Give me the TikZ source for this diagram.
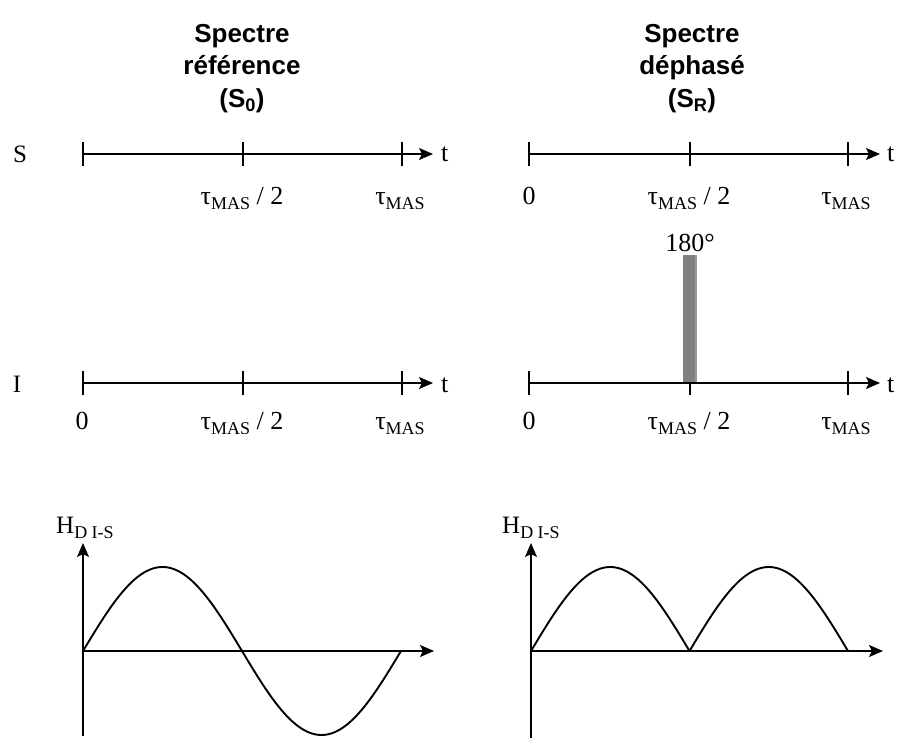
\documentclass[tikz,border=0pt]{standalone}
\usepackage{fontspec}
\setmainfont{Liberation Serif}
\newfontfamily\titlefont{Liberation Sans}
\usetikzlibrary{arrows.meta}
\newcommand\lowsub[1]{\raisebox{-5pt}{\fontsize{18}{18}\selectfont #1}}
\newcommand\tauMAS{τ\lowsub{MAS}}
\begin{document}
\begin{tikzpicture}[x=1pt,y=-1pt,
  axisline/.style={line width=1.5pt,-{Stealth[length=14pt,width=12pt,inset=3pt]}},
  tickline/.style={line width=1.2pt},
  curve/.style={line width=1.9pt},
  ticklbl/.style={font=\fontsize{26}{30}\selectfont, anchor=base, inner sep=0pt},
  rowlbl/.style={font=\fontsize{25}{30}\selectfont, anchor=base, inner sep=0pt},
  titlelbl/.style={font=\titlefont\bfseries\fontsize{26}{32.5}\selectfont, align=center, anchor=north, inner sep=0pt},
]
\useasboundingbox (0,0) rectangle (898,738);

% titles
\node[titlelbl] (title1) at (242,24) {Spectre\\référence\\(S\textsubscript{0})};
\node[titlelbl] (title2) at (692,24) {Spectre\\déphasé\\(S\textsubscript{R})};

% row labels
\node[rowlbl] (labS) at (20,163) {S};
\node[rowlbl] (labI) at (17,392) {I};

% ---- S row, left
\coordinate (sl0) at (83,154);
\coordinate (sl1) at (243,154);
\coordinate (sl2) at (402,154);
\coordinate (slend) at (433,154);
\foreach \c in {sl0,sl1,sl2} \draw[tickline] ([yshift=-12pt]\c) -- ([yshift=12pt]\c);
\draw[axisline] (sl0) -- (slend);
\node[ticklbl, anchor=base west] (tsl) at (441,162) {t};
\node[ticklbl] (sl1lbl) at (242,205) {\tauMAS\ / 2};
\node[ticklbl] (sl2lbl) at (400,205) {\tauMAS};

% ---- S row, right
\coordinate (sr0) at (529,154);
\coordinate (sr1) at (690,154);
\coordinate (sr2) at (848,154);
\coordinate (srend) at (880,154);
\foreach \c in {sr0,sr1,sr2} \draw[tickline] ([yshift=-12pt]\c) -- ([yshift=12pt]\c);
\draw[axisline] (sr0) -- (srend);
\node[ticklbl, anchor=base west] (tsr) at (887,162) {t};
\node[ticklbl] (sr0lbl) at (529,205) {0};
\node[ticklbl] (sr1lbl) at (689,205) {\tauMAS\ / 2};
\node[ticklbl] (sr2lbl) at (846,205) {\tauMAS};

% ---- I row, left
\coordinate (il0) at (83,383);
\coordinate (il1) at (243,383);
\coordinate (il2) at (402,383);
\coordinate (ilend) at (433,383);
\foreach \c in {il0,il1,il2} \draw[tickline] ([yshift=-12pt]\c) -- ([yshift=12pt]\c);
\draw[axisline] (il0) -- (ilend);
\node[ticklbl, anchor=base west] (til) at (441,392) {t};
\node[ticklbl] (il0lbl) at (82,429) {0};
\node[ticklbl] (il1lbl) at (242,429) {\tauMAS\ / 2};
\node[ticklbl] (il2lbl) at (400,429) {\tauMAS};

% ---- I row, right
\coordinate (ir0) at (529,383);
\coordinate (ir1) at (690,383);
\coordinate (ir2) at (848,383);
\coordinate (irend) at (880,383);
\foreach \c in {ir0,ir1,ir2} \draw[tickline] ([yshift=-12pt]\c) -- ([yshift=12pt]\c);
\fill[gray] (683,255) rectangle (695,383);
\fill[gray!80] (695,255) rectangle (697,383);
\draw[axisline] (ir0) -- (irend);
\node[ticklbl, anchor=base west] (tir) at (887,392) {t};
\node[ticklbl] (ir0lbl) at (529,429) {0};
\node[ticklbl] (ir1lbl) at (689,429) {\tauMAS\ / 2};
\node[ticklbl] (ir2lbl) at (846,429) {\tauMAS};
\node[ticklbl] (phase) at (690,252) {180°};

% ---- bottom graphs
\coordinate (gl0) at (83,651);
\coordinate (glbot) at (83,736);
\coordinate (gltop) at (83,543);
\coordinate (glx) at (434,651);
\draw[axisline] (glbot) -- (gltop);
\draw[axisline] (gl0) -- (glx);
\draw[curve] plot[domain=0:360, samples=121, smooth] ({83+(\x/360)*318},{651-84*sin(\x)});
\node[rowlbl, anchor=base west] (hl) at (56,533) {H\lowsub{D I-S}};

\coordinate (gr0) at (531,651);
\coordinate (grbot) at (531,738);
\coordinate (grtop) at (531,543);
\coordinate (grx) at (883,651);
\draw[axisline] (grbot) -- (grtop);
\draw[axisline] (gr0) -- (grx);
\draw[curve] plot[domain=0:180, samples=61, smooth] ({531+(\x/360)*317},{651-84*sin(\x)});
\draw[curve] plot[domain=180:360, samples=61, smooth] ({531+(\x/360)*317},{651+84*sin(\x)});
\node[rowlbl, anchor=base west] (hr) at (502,533) {H\lowsub{D I-S}};
\end{tikzpicture}
\end{document}
